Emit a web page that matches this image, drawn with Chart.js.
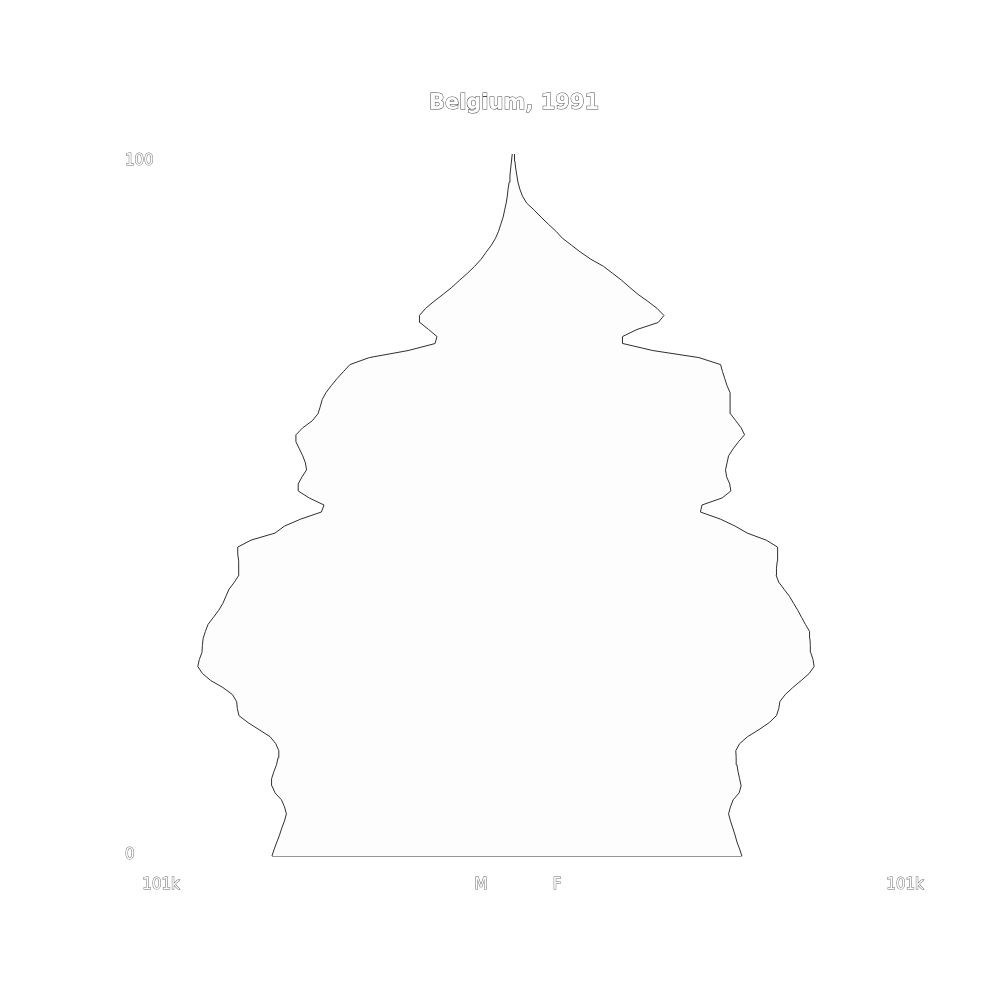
<!DOCTYPE html>
<html>
<head>
<meta charset="utf-8">
<script src="https://cdn.jsdelivr.net/npm/chart.js@4.4.0/dist/chart.umd.min.js"></script>
<style>
  html, body { margin: 0; padding: 0; background: #ffffff; }
  #wrap { width: 1000px; height: 1000px; position: relative; }
</style>
</head>
<body>
<div id="wrap"><canvas id="c" width="1000" height="1000"></canvas></div>
<script>
const titleText = "Belgium, 1991";
const ages = [0,1,2,3,4,5,6,7,8,9,10,11,12,13,14,15,16,17,18,19,20,21,22,23,24,25,26,27,28,29,30,31,32,33,34,35,36,37,38,39,40,41,42,43,44,45,46,47,48,49,50,51,52,53,54,55,56,57,58,59,60,61,62,63,64,65,66,67,68,69,70,71,72,73,74,75,76,77,78,79,80,81,82,83,84,85,86,87,88,89,90,91,92,93,94,95,96,97,98,99,100];
// thousands of people by single year of age
const males = [63.4,62.8,62.1,61.4,60.8,60.1,59.6,60.1,60.9,62.6,63.4,63.5,62.9,62.2,61.8,61.6,62.4,63.9,66.8,69.7,72.1,72.5,72.7,73.8,76.3,79.5,81.7,82.9,82.5,81.8,81.7,81.5,80.9,80.2,78.8,77.4,76.3,75.5,74.7,73.3,72.1,72.1,72.2,72.4,72.4,68.9,62.6,60.1,55.8,50.4,49.7,53.6,56.5,56.5,55.5,54.3,54.6,55.3,56.2,57.1,57.1,55.3,52.8,51.3,50.7,50.2,49.2,47.8,46.3,44.6,42.9,37.8,27.6,20.5,20.0,22.2,24.5,24.6,23.0,20.8,18.4,16.1,14.1,12.0,10.1,8.4,7.1,5.7,4.6,3.8,3.2,2.6,2.2,1.8,1.5,1.3,1.0,0.8,0.6,0.4,0.2];
const females = [60.2,59.6,58.9,58.4,57.8,57.2,56.7,57.2,57.9,59.5,60.0,59.6,59.2,58.9,58.7,58.6,59.6,61.7,64.7,67.4,69.3,69.9,70.2,71.6,73.6,75.8,77.9,79.2,78.9,78.3,78.2,78.1,78.0,76.9,75.9,74.9,73.8,72.7,71.3,69.9,69.2,69.3,69.5,69.6,69.6,66.6,61.6,58.4,54.5,49.3,49.7,55.0,57.3,57.0,56.2,55.9,56.3,56.7,57.9,59.3,60.9,60.0,58.6,57.2,57.1,57.1,57.1,56.3,55.7,55.1,54.6,48.9,36.8,28.9,28.8,32.6,38.2,39.7,37.9,35.5,32.9,30.7,28.6,26.2,23.8,20.5,17.8,15.4,13.0,11.3,9.3,7.4,5.6,3.6,2.5,1.8,1.3,1.0,0.7,0.5,0.4];
const axisMax = 101;           // thousands
const axisLabel = "101k";
const ageTicks = [0, 100];
const sexLabels = ["M", "F"];

const lineColor = "#2e2e2e";
const fillColor = "#fdfdfd";

const maleData = ages.map((a, i) => ({ x: -males[i], y: a }));
const femaleData = ages.map((a, i) => ({ x: females[i], y: a }));
const baseData = [{ x: -males[0], y: ages[0] }, { x: females[0], y: ages[0] }];

function outlinedText(ctx, text, x, y, font, align, stroke) {
  ctx.save();
  ctx.font = font;
  ctx.textAlign = align;
  ctx.textBaseline = "middle";
  ctx.lineWidth = 1;
  ctx.strokeStyle = stroke;
  ctx.fillStyle = "#ffffff";
  ctx.strokeText(text, x, y);
  ctx.fillText(text, x, y);
  ctx.restore();
}

const labelPlugin = {
  id: "labels",
  afterDraw(chart) {
    const ctx = chart.ctx;
    const xs = chart.scales.x, ys = chart.scales.y;
    const area = chart.chartArea;
    const tickFont = "15px 'DejaVu Sans'";
    const tickStroke = "#6a6a6a";
    // title
    outlinedText(ctx, titleText, (area.left + area.right) / 2 + 1, 104, "bold 21px 'DejaVu Sans'", "center", "#4a4a4a");
    // age ticks
    outlinedText(ctx, String(ageTicks[1]), 125, ys.getPixelForValue(ageTicks[1]) + 7, tickFont, "left", tickStroke);
    outlinedText(ctx, String(ageTicks[0]), 125, ys.getPixelForValue(ageTicks[0]) - 1, tickFont, "left", tickStroke);
    // value ticks
    const ly = area.bottom + 29;
    outlinedText(ctx, axisLabel, xs.getPixelForValue(-axisMax) + 32, ly, tickFont, "center", tickStroke);
    outlinedText(ctx, axisLabel, xs.getPixelForValue(axisMax) + 8, ly, tickFont, "center", tickStroke);
    outlinedText(ctx, sexLabels[0], xs.getPixelForValue(0) - 32, ly, tickFont, "center", tickStroke);
    outlinedText(ctx, sexLabels[1], xs.getPixelForValue(0) + 44, ly, tickFont, "center", tickStroke);
  }
};

new Chart(document.getElementById("c"), {
  type: "line",
  data: {
    datasets: [
      { label: "M", data: maleData, borderColor: lineColor, backgroundColor: fillColor, borderWidth: 1, fill: "origin", pointRadius: 0, tension: 0, clip: false },
      { label: "F", data: femaleData, borderColor: lineColor, backgroundColor: fillColor, borderWidth: 1, fill: "origin", pointRadius: 0, tension: 0, clip: false },
      { label: "base", data: baseData, borderColor: lineColor, backgroundColor: fillColor, borderWidth: 1.2, fill: false, pointRadius: 0, tension: 0, clip: false }
    ]
  },
  options: {
    responsive: false,
    animation: false,
    indexAxis: "y",
    layout: { padding: { left: 129, right: 103, top: 154, bottom: 144 } },
    scales: {
      x: { type: "linear", min: -axisMax, max: axisMax, display: false },
      y: { type: "linear", min: 0, max: 100, display: false }
    },
    plugins: {
      legend: { display: false },
      title: { display: false },
      tooltip: { enabled: false }
    }
  },
  plugins: [labelPlugin]
});
</script>
</body>
</html>
